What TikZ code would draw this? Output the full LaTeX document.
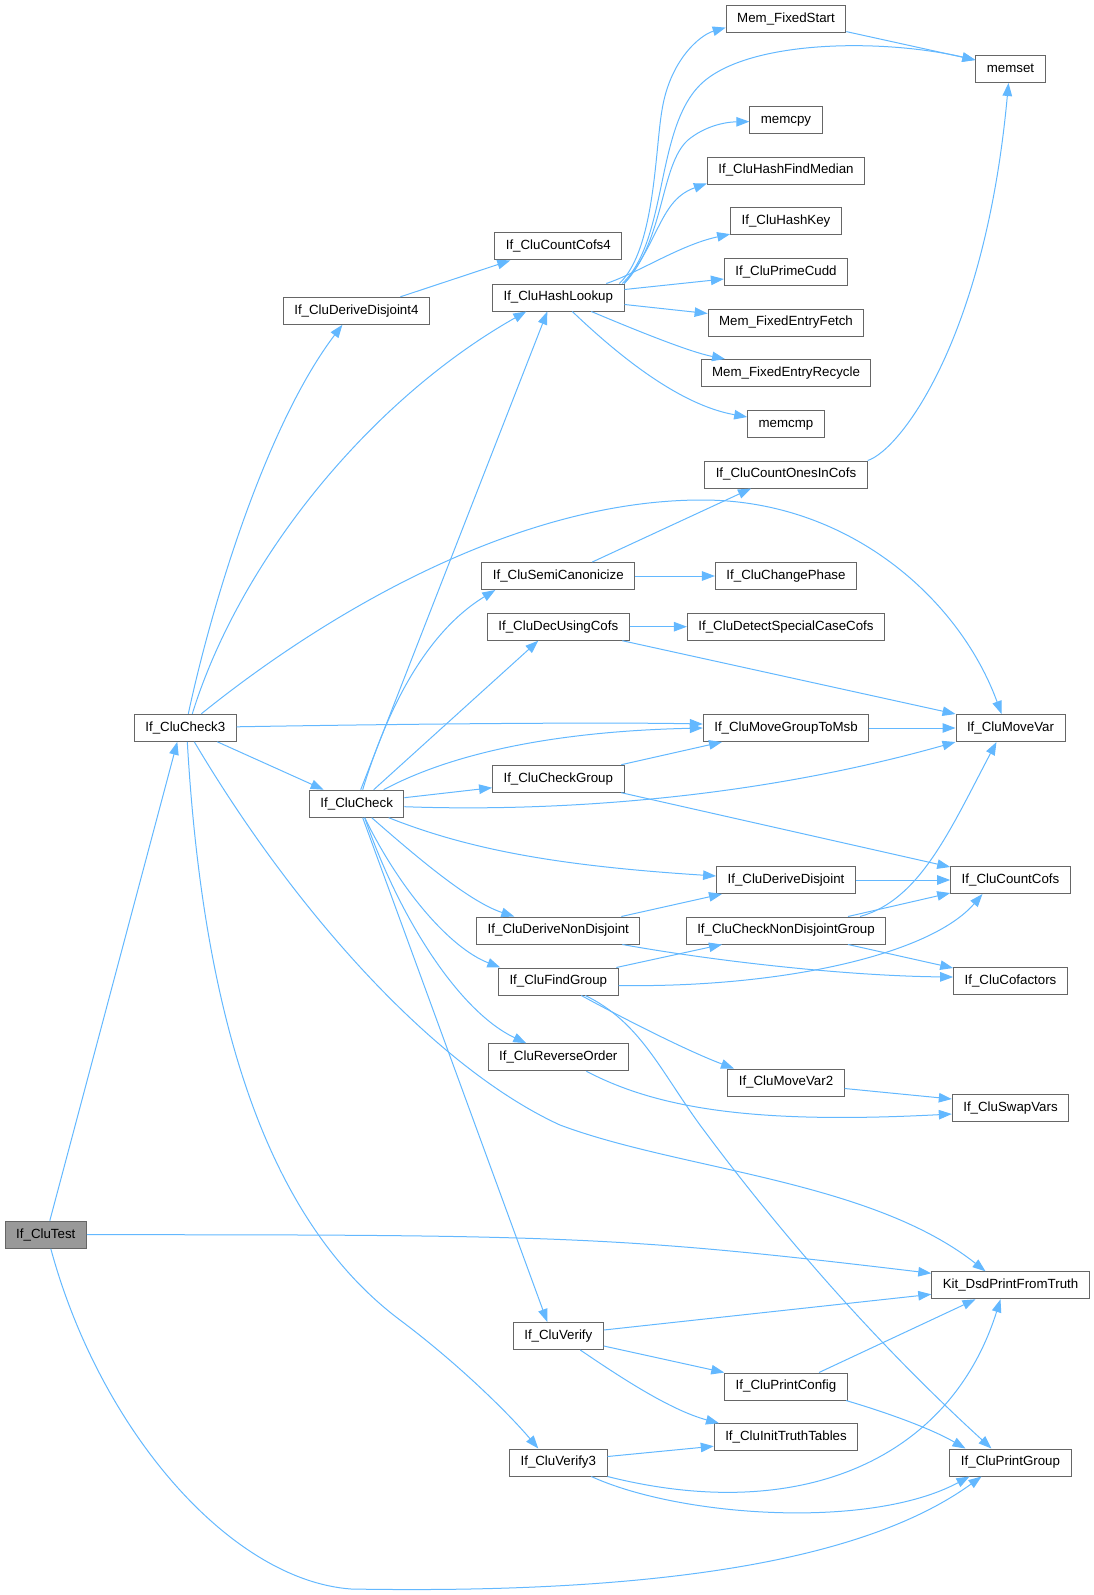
\documentclass[tikz,border=0pt]{standalone}
\usepackage{fontspec}
\setmainfont{Liberation Sans}
\usepackage{tikz}
\usetikzlibrary{arrows.meta}
\definecolor{edgeblue}{HTML}{63B8FF}
\definecolor{boxgray}{HTML}{666666}
\definecolor{rootgray}{HTML}{999999}
\tikzset{
fnbox/.style={draw=boxgray,line width=1pt,fill=white,minimum height=27pt,inner xsep=11pt,inner ysep=0pt,
text height=9.7pt,text depth=2.8pt,font=\fontsize{13.3}{16}\selectfont},
rootbox/.style={fnbox,fill=rootgray},
callarrow/.style={-{Triangle[length=13pt,width=9.5pt]},line width=1pt,edgeblue}
}

\begin{document}
\begin{tikzpicture}[x=1pt,y=-1pt]
\useasboundingbox (0,0) rectangle (1094,1595);
\node[rootbox] (ct) at (45.8,1234.7) {If\_CluTest};
\node[fnbox] (c3) at (185.3,727.8) {If\_CluCheck3};
\node[fnbox] (dd4) at (356.4,310.8) {If\_CluDeriveDisjoint4};
\node[fnbox] (cc) at (356.7,803.7) {If\_CluCheck};
\node[fnbox] (cc4) at (558.3,246.4) {If\_CluCountCofs4};
\node[fnbox] (hl) at (558.3,297.5) {If\_CluHashLookup};
\node[fnbox] (sc) at (558.3,576) {If\_CluSemiCanonicize};
\node[fnbox] (duc) at (558.3,626.7) {If\_CluDecUsingCofs};
\node[fnbox] (cg) at (558.3,778.7) {If\_CluCheckGroup};
\node[fnbox] (dnd) at (558.3,930.5) {If\_CluDeriveNonDisjoint};
\node[fnbox] (fg) at (558.3,981.5) {If\_CluFindGroup};
\node[fnbox] (ro) at (558.3,1057.2) {If\_CluReverseOrder};
\node[fnbox] (ver) at (558.3,1336) {If\_CluVerify};
\node[fnbox] (ver3) at (558.3,1462.5) {If\_CluVerify3};
\node[fnbox] (mfs) at (786,18.6) {Mem\_FixedStart};
\node[fnbox] (mcpy) at (786,119.6) {memcpy};
\node[fnbox] (hfm) at (786,170.5) {If\_CluHashFindMedian};
\node[fnbox] (hk) at (786,221.1) {If\_CluHashKey};
\node[fnbox] (pc) at (786,272) {If\_CluPrimeCudd};
\node[fnbox] (mfef) at (786,322.5) {Mem\_FixedEntryFetch};
\node[fnbox] (mfer) at (786,373) {Mem\_FixedEntryRecycle};
\node[fnbox] (mcmp) at (786,424) {memcmp};
\node[fnbox] (coic) at (786,474.5) {If\_CluCountOnesInCofs};
\node[fnbox] (chp) at (786,576) {If\_CluChangePhase};
\node[fnbox] (dscc) at (786,626.7) {If\_CluDetectSpecialCaseCofs};
\node[fnbox] (mgtm) at (786,728) {If\_CluMoveGroupToMsb};
\node[fnbox] (dd) at (786,880) {If\_CluDeriveDisjoint};
\node[fnbox] (cndg) at (786,930.5) {If\_CluCheckNonDisjointGroup};
\node[fnbox] (mv2) at (786,1082.5) {If\_CluMoveVar2};
\node[fnbox] (pcfg) at (786,1386.5) {If\_CluPrintConfig};
\node[fnbox] (itt) at (786,1437.2) {If\_CluInitTruthTables};
\node[fnbox] (mset) at (1010.5,69) {memset};
\node[fnbox] (mv) at (1010.5,728) {If\_CluMoveVar};
\node[fnbox] (ccofs) at (1010.5,880) {If\_CluCountCofs};
\node[fnbox] (cof) at (1010.5,981) {If\_CluCofactors};
\node[fnbox] (sv) at (1010.5,1108) {If\_CluSwapVars};
\node[fnbox] (kit) at (1010.5,1285.3) {Kit\_DsdPrintFromTruth};
\node[fnbox] (pg) at (1010.5,1462.5) {If\_CluPrintGroup};

\draw[callarrow] ([xshift=4pt]ct.north) -- ([xshift=-8pt]c3.south);
\draw[callarrow] (ct.east) .. controls (560,1234.7) and (620,1236) .. ([yshift=-2pt]kit.north west);
\draw[callarrow] ([xshift=5pt]ct.south) .. controls (100,1430) and (230,1580) .. (351,1589) .. controls (700,1595) and (880,1550) .. ([xshift=-29pt]pg.south);

\draw[callarrow] ([xshift=3pt]c3.north) .. controls (215,590) and (270,420) .. ([xshift=-14pt]dd4.south);
\draw[callarrow] ([xshift=7pt]c3.north) .. controls (240,560) and (370,400) .. ([xshift=-32pt]hl.south);
\draw[callarrow] ([xshift=16pt]c3.north) .. controls (330,610) and (520,500) .. (702,500) .. controls (850,500) and (960,600) .. ([xshift=-9pt]mv.north);
\draw[callarrow] ([yshift=1pt]c3.east) .. controls (400,724) and (600,722) .. ([yshift=4pt]mgtm.west);
\draw[callarrow] ([xshift=32pt]c3.south) -- ([xshift=-33pt]cc.north);
\draw[callarrow] ([xshift=9pt]c3.south) .. controls (300,920) and (440,1070) .. (560,1125) .. controls (680,1170) and (870,1180) .. ([xshift=-25pt]kit.north);
\draw[callarrow] ([xshift=2pt]c3.south) .. controls (205,1050) and (280,1230) .. (400,1320) .. controls (460,1365) and (510,1415) .. ([xshift=-20pt]ver3.north);

\draw[callarrow] ([xshift=4pt]cc.north) -- ([xshift=-11pt]hl.south);
\draw[callarrow] ([xshift=6pt]cc.north) .. controls (390,700) and (430,630) .. ([xshift=-63pt]sc.south);
\draw[callarrow] ([xshift=17pt]cc.north) -- ([xshift=-20pt]duc.south);
\draw[callarrow] ([xshift=27pt]cc.north) .. controls (430,765) and (520,732) .. (mgtm.west);
\draw[callarrow] ([yshift=6pt]cc.east) -- ([yshift=-9pt]cg.west);
\draw[callarrow] ([yshift=-3pt]cc.east) .. controls (550,812) and (750,800) .. ([yshift=-14pt]mv.west);
\draw[callarrow] ([xshift=32pt]cc.south) .. controls (470,850) and (560,866) .. ([yshift=4pt]dd.west);
\draw[callarrow] ([xshift=15pt]cc.south) .. controls (420,860) and (470,902) .. ([xshift=-44pt]dnd.north);
\draw[callarrow] ([xshift=8pt]cc.south) .. controls (400,890) and (450,948) .. ([xshift=-58pt]fg.north);
\draw[callarrow] ([xshift=8pt]cc.south) .. controls (400,920) and (460,1012) .. ([xshift=-32pt]ro.north);
\draw[callarrow] ([xshift=6pt]cc.south) -- ([xshift=-11pt]ver.north);

\draw[callarrow] ([xshift=44pt]dd4.north) -- ([xshift=-48pt]cc4.south);

\draw[callarrow] ([xshift=61pt]hl.north) .. controls (655,250) and (655,150) .. (662,110) .. controls (670,60) and (700,35) .. ([yshift=-9pt]mfs.west);
\draw[callarrow] ([xshift=64pt]hl.north) .. controls (668,240) and (655,130) .. (700,85) .. controls (745,40) and (880,38) .. ([yshift=9pt]mset.west);
\draw[callarrow] ([xshift=66pt]hl.north) .. controls (665,240) and (660,165) .. (688,140) .. controls (705,126) and (725,122) .. ([yshift=-2pt]mcpy.west);
\draw[callarrow] ([xshift=66pt]hl.north) .. controls (660,240) and (660,200) .. ([yshift=1pt]hfm.south west);
\draw[callarrow] ([xshift=48pt]hl.north) .. controls (640,272) and (680,245) .. ([yshift=1pt]hk.south west);
\draw[callarrow] ([yshift=8pt]hl.east) -- ([yshift=-7pt]pc.west);
\draw[callarrow] ([yshift=-7pt]hl.east) -- ([yshift=9pt]mfef.west);
\draw[callarrow] ([xshift=33pt]hl.south) .. controls (640,332) and (690,352) .. ([xshift=-61pt]mfer.north);
\draw[callarrow] ([xshift=14pt]hl.south) .. controls (620,357) and (680,405) .. ([yshift=7pt]mcmp.west);

\draw[callarrow] ([yshift=-13pt]mfs.east) -- ([yshift=9pt]mset.west);
\draw[callarrow] (coic.north east) .. controls (900,450) and (985,340) .. ([xshift=-2pt]mset.south);

\draw[callarrow] ([xshift=34pt]sc.north) -- ([xshift=-35pt]coic.south);
\draw[callarrow] (sc.east) -- (chp.west);
\draw[callarrow] (duc.east) -- (dscc.west);
\draw[callarrow] ([xshift=64pt]duc.south) -- ([yshift=14pt]mv.west);
\draw[callarrow] (mgtm.east) -- (mv.west);
\draw[callarrow] ([xshift=63pt]cg.north) -- ([xshift=-64pt]mgtm.south);
\draw[callarrow] ([xshift=63pt]cg.south) -- ([yshift=13pt]ccofs.west);
\draw[callarrow] (dd.east) -- (ccofs.west);
\draw[callarrow] ([xshift=63pt]dnd.north) -- ([xshift=-64pt]dd.south);
\draw[callarrow] ([xshift=64pt]dnd.south) .. controls (720,962) and (850,976) .. ([yshift=4pt]cof.west);
\draw[callarrow] ([xshift=62pt]cndg.north) -- ([yshift=-13pt]ccofs.west);
\draw[callarrow] ([xshift=74pt]cndg.north) .. controls (920,900) and (950,830) .. ([xshift=-14pt]mv.south);
\draw[callarrow] ([xshift=62pt]cndg.south) -- ([yshift=13pt]cof.west);
\draw[callarrow] ([xshift=58pt]fg.north) -- ([xshift=-64pt]cndg.south);
\draw[callarrow] ([yshift=-4pt]fg.east) .. controls (780,988) and (930,955) .. ([xshift=-28pt]ccofs.south);
\draw[callarrow] ([xshift=23pt]fg.south) .. controls (630,1022) and (690,1052) .. ([xshift=-52pt]mv2.north);
\draw[callarrow] ([xshift=27pt]fg.south) .. controls (640,1022) and (660,1070) .. (700,1125) .. controls (800,1260) and (900,1365) .. ([xshift=-19pt]pg.north);
\draw[callarrow] ([xshift=28pt]ro.south) .. controls (660,1110) and (760,1124) .. ([yshift=-6pt]sv.west);
\draw[callarrow] ([yshift=-6pt]mv2.east) -- ([yshift=9pt]sv.west);

\draw[callarrow] ([yshift=6pt]ver.east) -- ([yshift=-9pt]kit.west);
\draw[callarrow] ([yshift=-10pt]ver.east) -- (pcfg.north west);
\draw[callarrow] ([xshift=22pt]ver.south) .. controls (620,1377) and (670,1410) .. ([xshift=-67pt]itt.north);
\draw[callarrow] ([xshift=33pt]pcfg.north) -- ([xshift=-35pt]kit.south);
\draw[callarrow] ([xshift=60pt]pcfg.south) .. controls (885,1412) and (930,1428) .. ([xshift=-45pt]pg.north);
\draw[callarrow] ([yshift=6pt]ver3.east) -- ([yshift=-9pt]itt.west);
\draw[callarrow] (ver3.south east) .. controls (800,1525) and (950,1460) .. ([xshift=-10pt]kit.south);
\draw[callarrow] ([xshift=33pt]ver3.south) .. controls (680,1517) and (870,1530) .. ([xshift=-41pt]pg.south);
\end{tikzpicture}
\end{document}
